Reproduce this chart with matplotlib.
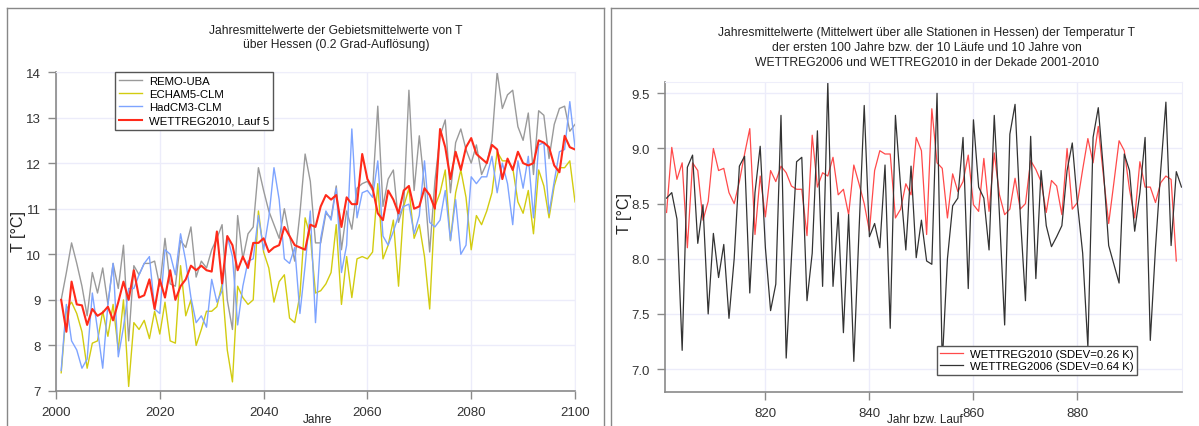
import matplotlib
matplotlib.use("Agg")
import matplotlib.pyplot as plt
from matplotlib.lines import Line2D

plt.rcParams['font.family'] = ['Liberation Sans', 'DejaVu Sans']

# ---- left panel: Gebietsmittel Hessen, 2001-2100 ----
years = list(range(2001, 2101))

remo_uba = [9.0, 9.6, 10.25, 9.8, 9.3, 8.65, 9.6, 9.15, 9.7, 8.9,
            9.8, 9.25, 10.2, 8.1, 9.75, 9.55, 9.8, 9.8, 9.85, 9.3,
            10.35, 9.35, 9.3, 10.3, 10.15, 10.6, 9.5, 9.85, 9.7, 10.1,
            10.35, 10.65, 9.0, 8.35, 10.85, 9.9, 10.45, 10.6, 11.9, 11.4,
            10.95, 10.65, 10.35, 11.0, 10.4, 9.85, 10.9, 12.2, 11.6, 10.25,
            10.25, 10.9, 10.8, 11.5, 10.1, 10.95, 10.55, 11.45, 11.55, 11.6,
            11.4, 13.25, 11.05, 11.65, 11.85, 10.7, 11.1, 13.6, 11.4, 12.6,
            11.5, 10.05, 11.6, 12.6, 12.95, 11.35, 12.45, 12.75, 12.3, 12.0,
            12.4, 11.75, 12.0, 12.5, 14.0, 13.2, 13.5, 13.6, 12.8, 12.5,
            13.1, 11.75, 13.15, 13.05, 12.1, 12.85, 13.2, 13.25, 12.7, 12.85]

echam5_clm = [7.4, 8.8, 8.95, 8.7, 8.3, 7.5, 8.05, 8.1, 8.75, 8.2,
              8.9, 7.9, 9.0, 7.1, 8.5, 8.35, 8.55, 8.15, 8.75, 8.25,
              8.95, 8.1, 8.05, 9.75, 8.65, 9.0, 8.0, 8.35, 8.75, 8.75,
              8.85, 9.35, 7.9, 7.2, 9.3, 9.05, 8.9, 9.0, 10.95, 10.05,
              9.7, 8.95, 9.4, 9.55, 8.6, 8.5, 9.1, 10.8, 10.4, 9.15,
              9.2, 9.35, 9.6, 10.65, 8.9, 9.95, 9.05, 9.9, 9.95, 9.9,
              10.05, 11.55, 9.9, 10.2, 10.75, 9.3, 11.05, 11.45, 10.35, 10.65,
              9.95, 8.8, 11.05, 11.35, 11.85, 10.3, 11.35, 11.85, 11.25, 10.1,
              10.85, 10.65, 10.95, 11.35, 12.25, 12.05, 12.05, 11.9, 11.15, 10.9,
              11.4, 10.45, 11.85, 11.5, 10.8, 11.5, 11.9, 11.9, 12.05, 11.15]

hadcm3_clm = [7.45, 8.9, 8.1, 7.9, 7.5, 7.7, 9.15, 8.35, 7.5, 8.9,
              9.8, 7.75, 8.4, 9.25, 9.25, 9.55, 9.8, 9.95, 8.8, 8.7,
              10.1, 10.0, 9.55, 10.45, 9.85, 9.05, 8.5, 8.65, 8.4, 9.45,
              8.95, 9.2, 10.4, 9.95, 8.45, 9.3, 9.85, 9.9, 10.85, 10.1,
              10.8, 11.9, 11.2, 9.9, 9.8, 10.15, 8.7, 9.75, 10.95, 8.5,
              10.35, 10.95, 10.75, 11.45, 9.6, 10.2, 12.75, 10.8, 11.35, 11.4,
              11.25, 12.05, 10.4, 10.2, 10.5, 10.85, 11.05, 11.1, 10.45, 10.85,
              12.05, 10.7, 10.6, 10.75, 11.4, 10.3, 11.2, 10.0, 10.2, 11.7,
              11.55, 11.7, 11.7, 12.15, 11.35, 12.0, 11.55, 10.65, 12.05, 11.45,
              12.15, 10.8, 12.4, 12.45, 10.9, 11.6, 12.25, 12.3, 13.35, 12.35]

wettreg2010_lauf5 = [9.0, 8.3, 9.4, 8.9, 8.88, 8.45, 8.8, 8.65, 8.72, 8.85,
                     8.55, 8.95, 9.4, 9.0, 9.65, 9.05, 9.1, 9.45, 8.8, 9.45,
                     9.05, 9.65, 9.0, 9.3, 9.45, 9.75, 9.65, 9.75, 9.65, 9.62,
                     10.5, 9.36, 10.4, 10.2, 9.65, 9.95, 9.7, 10.25, 10.25, 10.35,
                     10.05, 10.15, 10.2, 10.6, 10.4, 10.2, 10.15, 10.1, 10.65, 10.6,
                     11.05, 11.3, 11.2, 11.3, 10.6, 11.25, 11.1, 11.1, 12.2, 11.65,
                     11.45, 10.9, 10.75, 11.4, 11.2, 10.9, 11.4, 11.5, 11.0, 11.05,
                     11.45, 11.3, 11.0, 12.75, 12.35, 11.65, 12.25, 11.85, 12.35, 12.55,
                     12.2, 12.1, 12.0, 12.4, 12.3, 11.65, 12.1, 11.85, 12.25, 12.0,
                     11.95, 12.0, 12.5, 12.45, 12.35, 11.95, 11.8, 12.6, 12.35, 12.3]

# ---- right panel: Stationsmittel, Jahr bzw. Lauf ----
lauf_2006 = list(range(801, 901))
lauf_2010 = list(range(801, 900))

wettreg2010 = [8.42, 9.01, 8.72, 8.87, 8.10, 8.87, 8.80, 8.35, 8.52, 9.00,
               8.80, 8.82, 8.60, 8.50, 8.70, 8.95, 9.18, 8.22, 8.75, 8.38,
               8.80, 8.70, 8.84, 8.78, 8.66, 8.63, 8.63, 8.21, 9.12, 8.65,
               8.78, 8.75, 8.92, 8.58, 8.63, 8.40, 8.85, 8.68, 8.50, 8.25,
               8.80, 8.98, 8.95, 8.95, 8.37, 8.45, 8.68, 8.58, 9.10, 8.98,
               8.22, 9.36, 8.87, 8.82, 8.37, 8.77, 8.61, 8.70, 8.94, 8.49,
               8.43, 8.91, 8.43, 8.96, 8.58, 8.40, 8.45, 8.73, 8.45, 8.50,
               8.89, 8.81, 8.70, 8.42, 8.71, 8.66, 8.40, 9.00, 8.45, 8.51,
               8.81, 9.09, 8.87, 9.20, 8.75, 8.32, 8.69, 9.07, 8.98, 8.63,
               8.37, 8.88, 8.65, 8.65, 8.51, 8.69, 8.75, 8.72, 7.98]

wettreg2006 = [8.55, 8.60, 8.36, 7.17, 8.83, 8.94, 8.14, 8.49, 7.50, 8.23,
               7.83, 8.13, 7.46, 8.00, 8.84, 8.93, 7.69, 8.60, 9.02, 8.10,
               7.53, 7.77, 9.30, 7.10, 8.00, 8.88, 8.92, 7.62, 8.05, 9.16,
               7.75, 9.60, 7.75, 8.42, 7.33, 8.40, 7.07, 8.25, 9.39, 8.20,
               8.32, 8.10, 8.85, 7.37, 9.30, 8.65, 8.08, 8.84, 8.01, 8.35,
               7.98, 7.95, 9.50, 7.05, 8.00, 8.48, 8.55, 9.10, 7.73, 9.26,
               8.65, 8.55, 8.08, 9.30, 8.40, 7.40, 9.13, 9.40, 8.40, 7.62,
               9.11, 7.82, 8.80, 8.30, 8.11, 8.20, 8.30, 8.80, 9.05, 8.50,
               8.05, 7.20, 9.10, 9.37, 8.80, 8.12, 7.95, 7.78, 8.95, 8.80,
               8.25, 8.60, 9.10, 7.26, 8.10, 8.80, 9.42, 8.12, 8.79, 8.65]

W, H = 1199, 427
fig = plt.figure(figsize=(W / 100, H / 100), dpi=100)


def fx(px):
    return px / W


def fy(py):
    return 1 - py / H


def style_axes(ax):
    for s in ['top', 'right']:
        ax.spines[s].set_color('#eeeefa')
    for s in ['left', 'bottom']:
        ax.spines[s].set_color('#8a8a8a')
        ax.spines[s].set_linewidth(1.2)
    ax.grid(True, color='#ececfa', linewidth=1.0)
    ax.set_axisbelow(True)
    ax.tick_params(direction='out', length=6, width=1, color='#8a8a8a',
                   labelsize=9.5, labelcolor='#333333', pad=5)


# panel frames
frame = dict(color='#888888', linewidth=1.0, transform=fig.transFigure)
fig.add_artist(Line2D([fx(7), fx(7)], [fy(9), 0], **frame))
fig.add_artist(Line2D([fx(7), fx(604)], [fy(9), fy(9)], **frame))
fig.add_artist(Line2D([fx(604), fx(604)], [fy(9), 0], **frame))
fig.add_artist(Line2D([fx(611), fx(611)], [fy(9), 0], **frame))
fig.add_artist(Line2D([fx(611), 1], [fy(9), fy(9)], **frame))

# left axes
ax1 = fig.add_axes([fx(56), fy(392), fx(575) - fx(56), fy(73) - fy(392)])
style_axes(ax1)
ax1.plot(years, remo_uba, color='#9a9a9a', linewidth=1.0, label='REMO-UBA')
ax1.plot(years, echam5_clm, color='#d2cc10', linewidth=1.0, label='ECHAM5-CLM')
ax1.plot(years, hadcm3_clm, color='#7ea4ff', linewidth=1.0, label='HadCM3-CLM')
ax1.plot(years, wettreg2010_lauf5, color='#ff2a1a', linewidth=1.5,
         label='WETTREG2010, Lauf 5')
ax1.set_xlim(2000, 2100)
ax1.set_ylim(7, 14)
ax1.set_xticks([2000, 2020, 2040, 2060, 2080, 2100])
ax1.set_yticks(range(7, 15))
leg1 = ax1.legend(loc='upper left', bbox_to_anchor=(0.1145, 1.0), borderaxespad=0,
                  fontsize=8.2, handlelength=2.0, handletextpad=0.6,
                  labelspacing=0.28, borderpad=0.35, fancybox=False,
                  framealpha=1, edgecolor='#555555')
leg1.get_frame().set_linewidth(1.0)

fig.text(fx(336), fy(38), 'Jahresmittelwerte der Gebietsmittelwerte von T\n'
         'über Hessen (0.2 Grad-Auflösung)', ha='center', va='center',
         fontsize=8.7, color='#222222', linespacing=1.3)
fig.text(fx(19), fy(232), 'T [°C]', rotation=90, ha='center', va='center',
         fontsize=11.5, color='#222222')
fig.text(fx(318), fy(426), 'Jahre', ha='center', va='bottom', fontsize=8.5,
         color='#222222')

# right axes
ax2 = fig.add_axes([fx(665), fy(392.7), fx(1181.5) - fx(665), fy(83.3) - fy(392.7)])
style_axes(ax2)
ax2.plot(lauf_2010, wettreg2010, color='#ff4a4a', linewidth=0.9,
         label='WETTREG2010 (SDEV=0.26 K)')
ax2.plot(lauf_2006, wettreg2006, color='#333333', linewidth=0.9,
         label='WETTREG2006 (SDEV=0.64 K)')
ax2.set_xlim(800.7, 900)
ax2.set_ylim(6.795, 9.6)
ax2.set_xticks([820, 840, 860, 880])
ax2.set_yticks([7.0, 7.5, 8.0, 8.5, 9.0, 9.5])
ax2.set_yticklabels(['7.0', '7.5', '8.0', '8.5', '9.0', '9.5'])
leg2 = ax2.legend(loc='upper left', bbox_to_anchor=(0.526, 0.149), borderaxespad=0,
                  fontsize=8.2, handlelength=2.0, handletextpad=0.6,
                  labelspacing=0.2, borderpad=0.3, fancybox=False,
                  framealpha=1, edgecolor='#555555')
leg2.get_frame().set_linewidth(1.0)

fig.text(fx(927), fy(48), 'Jahresmittelwerte (Mittelwert über alle Stationen in Hessen) '
         'der Temperatur T\nder ersten 100 Jahre bzw. der 10 Läufe und 10 Jahre von\n'
         'WETTREG2006 und WETTREG2010 in der Dekade 2001-2010',
         ha='center', va='center', fontsize=8.7, color='#222222', linespacing=1.3)
fig.text(fx(624), fy(214), 'T [°C]', rotation=90, ha='center', va='center',
         fontsize=11.5, color='#222222')
fig.text(fx(925), fy(426), 'Jahr bzw. Lauf', ha='center', va='bottom', fontsize=8.5,
         color='#222222')

fig.savefig('out.png', dpi=100)
